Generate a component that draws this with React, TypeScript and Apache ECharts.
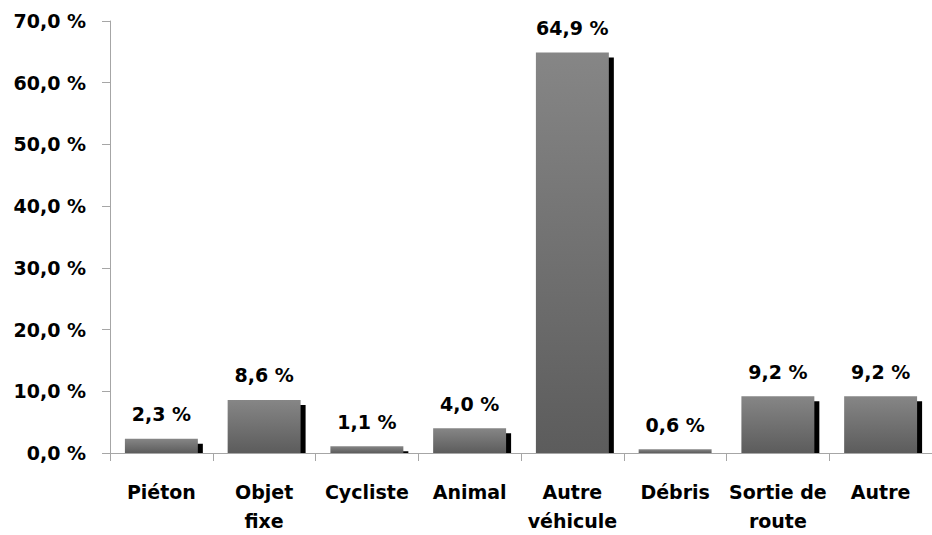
import React, { useEffect, useRef } from "react";
import * as echarts from "echarts";

const categories = ["Piéton", "Objet\nfixe", "Cycliste", "Animal", "Autre\nvéhicule", "Débris", "Sortie de\nroute", "Autre"];
const values = [2.3, 8.6, 1.1, 4.0, 64.9, 0.6, 9.2, 9.2];
const yTicks = { min: 0, max: 70, interval: 10 };

const fmt = (v: number) => v.toFixed(1).replace(".", ",") + " %";
const FONT = '"DejaVu Sans", sans-serif';
const AXIS_GRAY = "#a6a6a6";

export default function App() {
  const ref = useRef<HTMLDivElement>(null);
  useEffect(() => {
    if (!ref.current) return;
    const chart = echarts.init(ref.current, undefined, { renderer: "svg" });
    chart.setOption({
      animation: false,
      backgroundColor: "#ffffff",
      grid: { left: 110, right: -11, top: 21, bottom: 78, containLabel: false },
      xAxis: {
        type: "category",
        data: categories,
        axisLine: { show: true, lineStyle: { color: AXIS_GRAY, width: 1 } },
        axisTick: { show: true, alignWithLabel: false, length: 8, lineStyle: { color: AXIS_GRAY } },
        axisLabel: {
          interval: 0,
          color: "#000",
          fontFamily: FONT,
          fontWeight: "bold",
          fontSize: 19,
          lineHeight: 29,
          margin: 24,
        },
      },
      yAxis: {
        type: "value",
        min: yTicks.min,
        max: yTicks.max,
        interval: yTicks.interval,
        splitLine: { show: false },
        axisLine: { show: true, lineStyle: { color: AXIS_GRAY, width: 1 } },
        axisTick: { show: true, length: 8, lineStyle: { color: AXIS_GRAY } },
        axisLabel: {
          color: "#000",
          fontFamily: FONT,
          fontWeight: "bold",
          fontSize: 19,
          margin: 24,
          formatter: (v: number) => fmt(v),
        },
      },
      series: [
        {
          type: "custom",
          z: 1,
          data: values.map((v, i) => [i, v]),
          renderItem: (params: any, api: any) => {
            const x = api.value(0);
            const v = api.value(1);
            const top = api.coord([x, v]);
            const base = api.coord([x, 0]);
            const w = api.size([1, 0])[0] * 0.71;
            const h = Math.max(0, base[1] - top[1] - 5);
            return {
              type: "rect",
              shape: { x: top[0] - w / 2 + 5, y: top[1] + 5, width: w, height: h },
              style: { fill: "#000000" },
            };
          },
        },
        {
          type: "bar",
          z: 2,
          data: values,
          barWidth: "71%",
          itemStyle: {
            color: new echarts.graphic.LinearGradient(0, 0, 0, 1, [
              { offset: 0, color: "#868686" },
              { offset: 1, color: "#5c5c5c" },
            ]),
          },
          label: {
            show: true,
            position: "top",
            distance: 15,
            color: "#000",
            fontFamily: FONT,
            fontWeight: "bold",
            fontSize: 19,
            formatter: (p: any) => fmt(p.value),
          },
        },
      ],
    });
    return () => chart.dispose();
  }, []);
  return (
    <div
      ref={ref}
      style={{ position: "fixed", left: 0, top: 0, width: 932, height: 535 }}
    />
  );
}
